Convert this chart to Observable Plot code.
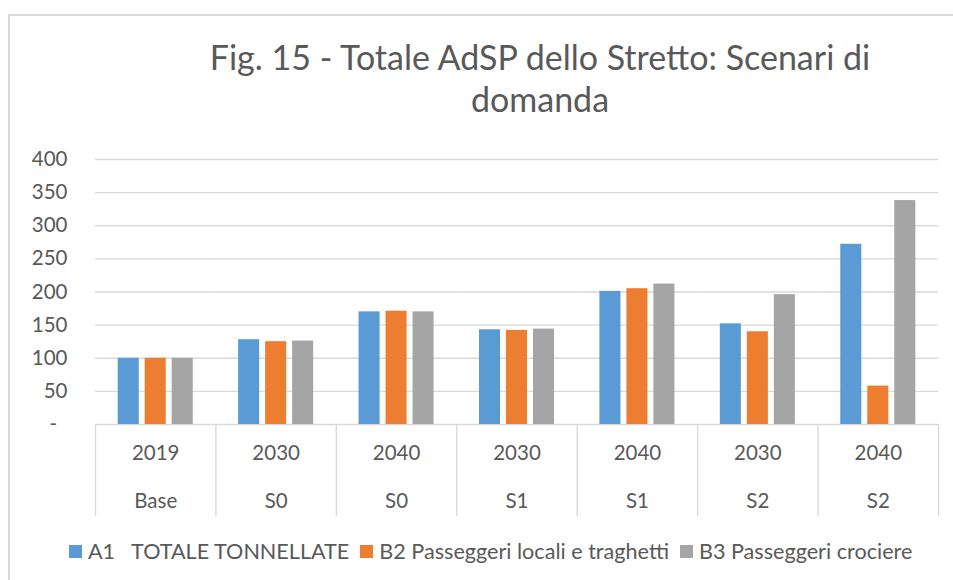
<!DOCTYPE html>
<html>
<head>
<meta charset="utf-8">
<script src="https://cdn.jsdelivr.net/npm/d3@7"></script>
<script src="https://cdn.jsdelivr.net/npm/@observablehq/plot@0.6"></script>
<style>
  html, body { margin: 0; padding: 0; background: #fff; }
  body { width: 953px; height: 580px; position: relative; overflow: hidden; font-family: Lato, "Open Sans", sans-serif; color: #595959; }
  #frame { position: absolute; left: 8px; top: 14px; width: 960px; height: 600px; border-left: 2px solid #d9d9d9; border-top: 2px solid #d9d9d9; box-sizing: border-box; }
  #title { position: relative; margin-left: 127px; width: 826px; padding-top: 36px; text-align: center; font-size: 34px; line-height: 42px; height: 85px; }
  #chart { position: relative; height: 410px; }
  #legend { position: relative; padding-top: 4px; padding-left: 69px; height: 32px; display: flex; align-items: center; font-size: 21.6px; line-height: 24px; white-space: pre; }
  .item { display: flex; align-items: center; margin-right: 11px; }
  .sw { width: 13px; height: 13px; margin-right: 6px; }
</style>
</head>
<body>
<div id="frame"></div>
<div id="title">Fig. 15 - Totale AdSP dello Stretto: Scenari di<br>domanda</div>
<div id="chart"></div>
<div id="legend"></div>
<script>
const years = ["2019", "2030", "2040", "2030", "2040", "2030", "2040"];
const scenarios = ["Base", "S0", "S0", "S1", "S1", "S2", "S2"];
const seriesNames = ["A1   TOTALE TONNELLATE", "B2 Passeggeri locali e traghetti", "B3 Passeggeri crociere"];
const seriesColors = ["#5B9BD5", "#ED7D31", "#A5A5A5"];
const a1 = [100, 128, 170, 143, 201, 152, 272];
const b2 = [100, 125, 171, 142, 205, 140, 58];
const b3 = [100, 126, 170, 144, 212, 196, 338];
const yTicks = [0, 50, 100, 150, 200, 250, 300, 350, 400];

const keys = years.map((y, i) => y + "|" + scenarios[i]);
const seriesValues = [a1, b2, b3];
const data = [];
keys.forEach((k, i) => {
  seriesNames.forEach((s, j) => data.push({cat: k, series: s, value: seriesValues[j][i]}));
});

const W = 953, ML = 95, MR = 15;
const facetW = (W - ML - MR) / keys.length;
const textColor = "#595959";
const gridColor = "#d9d9d9";

const chart = Plot.plot({
  width: W,
  height: 410,
  marginLeft: ML,
  marginRight: MR,
  marginTop: 38,
  marginBottom: 107,
  style: {fontFamily: "Lato, 'Open Sans', sans-serif", color: textColor, background: "transparent"},
  fx: {domain: keys, padding: 0, round: false, axis: null, label: null},
  x: {domain: seriesNames, paddingInner: 0.22, paddingOuter: 0.84, round: false, axis: null, label: null},
  y: {domain: [0, 400], axis: null, label: null},
  color: {domain: seriesNames, range: seriesColors},
  marks: [
    Plot.gridY(yTicks, {stroke: gridColor, strokeOpacity: 1, strokeWidth: 1.4}),
    Plot.barY(data, {fx: "cat", x: "series", y: "value", fill: "series"}),
    Plot.axisY(yTicks, {
      tickSize: 0, tickPadding: 28, fontSize: 20.5, fill: textColor, label: null,
      tickFormat: d => d === 0 ? "-\u00a0\u00a0" : String(d)
    }),
    Plot.axisFx({anchor: "bottom", text: null, tickSize: 92, dx: -facetW / 2, stroke: gridColor, strokeWidth: 1.4, label: null}),
    Plot.axisFx({anchor: "bottom", ticks: [keys[keys.length - 1]], text: null, tickSize: 92, dx: facetW / 2, stroke: gridColor, strokeWidth: 1.4, label: null}),
    Plot.text(keys, {fx: d => d, text: (d, i) => years[i], frameAnchor: "bottom", dy: 35, fontSize: 20.5, fill: textColor}),
    Plot.text(keys, {fx: d => d, text: (d, i) => scenarios[i], frameAnchor: "bottom", dy: 83, fontSize: 20.5, fill: textColor})
  ]
});
document.getElementById("chart").appendChild(chart);

const legend = document.getElementById("legend");
seriesNames.forEach((s, i) => {
  const it = document.createElement("div");
  it.className = "item";
  const sw = document.createElement("div");
  sw.className = "sw";
  sw.style.background = seriesColors[i];
  const t = document.createElement("span");
  t.textContent = s;
  it.appendChild(sw);
  it.appendChild(t);
  legend.appendChild(it);
});
</script>
</body>
</html>
